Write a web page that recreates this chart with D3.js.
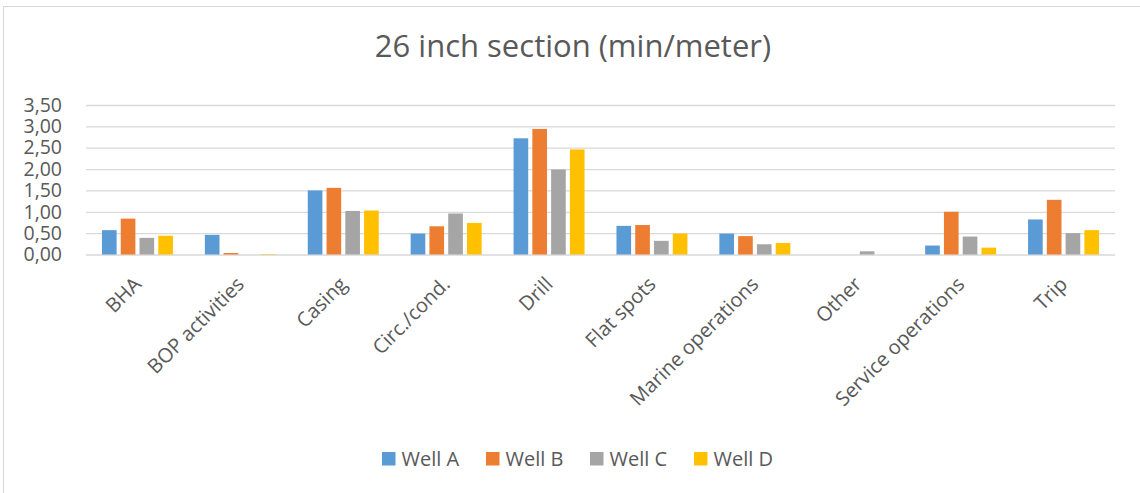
<!DOCTYPE html>
<html>
<head>
<meta charset="utf-8">
<script src="https://cdn.jsdelivr.net/npm/d3@7"></script>
<style>
  body { margin: 0; background: #ffffff; }
  #chart { width: 1140px; height: 493px; overflow: hidden; }
</style>
</head>
<body>
<div id="chart"></div>
<script>
// data
const categories = [
  "BHA",
  "BOP activities",
  "Casing",
  "Circ./cond.",
  "Drill",
  "Flat spots",
  "Marine operations",
  "Other",
  "Service operations",
  "Trip",
];
const seriesNames = ["Well A", "Well B", "Well C", "Well D"];
const wellA = [0.57, 0.46, 1.5, 0.49, 2.72, 0.67, 0.49, 0, 0.21, 0.82];
const wellB = [0.84, 0.035, 1.56, 0.66, 2.94, 0.69, 0.43, 0, 1.0, 1.28];
const wellC = [0.39, 0, 1.02, 0.96, 1.99, 0.32, 0.24, 0.075, 0.42, 0.5];
const wellD = [0.44, 0.01, 1.03, 0.74, 2.46, 0.49, 0.27, 0, 0.16, 0.57];
const yTicks = [0, 0.5, 1, 1.5, 2, 2.5, 3, 3.5];
const titleText = "26 inch section (min/meter)";

const colorPalette = {
  wells: ["#5B9BD5", "#ED7D31", "#A5A5A5", "#FFC000"],
  text: "#595959",
  grid: "#D9D9D9",
  border: "#D9D9D9",
};

const config = {
  width: 1140,
  height: 493,
  plotLeft: 86,
  plotRight: 1115,
  plotTop: 105,
  plotBottom: 254.5,
  font: "'Open Sans', 'DejaVu Sans', sans-serif",
  labelGap: 24,
  legendX: 382,
  legendStep: 104,
  legendY: 452,
  legendBox: 13.5,
};

const seriesValues = [wellA, wellB, wellC, wellD];
const table = categories.map((c, i) => ({
  category: c,
  values: seriesNames.map((s, j) => ({ series: s, value: seriesValues[j][i] })),
}));

const svg = d3.select("#chart")
  .append("svg")
  .attr("width", config.width)
  .attr("height", config.height)
  .style("font-family", config.font);

// chart area frame (right and bottom edges fall outside the picture)
svg.append("rect")
  .attr("x", 3.5)
  .attr("y", 6.5)
  .attr("width", 1160)
  .attr("height", 600)
  .attr("fill", "#ffffff")
  .attr("stroke", colorPalette.border)
  .attr("stroke-width", 1);

svg.append("text")
  .text(titleText)
  .attr("x", 573)
  .attr("y", 57)
  .attr("text-anchor", "middle")
  .style("font-size", "31px")
  .style("fill", colorPalette.text);

// scales
const x = d3.scaleBand()
  .domain(categories)
  .range([config.plotLeft, config.plotRight])
  .padding(0);

const xInner = d3.scaleBand()
  .domain(seriesNames)
  .range([0, x.bandwidth()])
  .paddingInner(0.22)
  .paddingOuter(0.85);

const y = d3.scaleLinear()
  .domain([0, 3.5])
  .range([config.plotBottom, config.plotTop]);

// gridlines
const grid = svg.append("g")
  .attr("class", "grid")
  .attr("transform", `translate(${config.plotLeft},0)`)
  .call(d3.axisLeft(y).tickValues(yTicks)
    .tickSize(-(config.plotRight - config.plotLeft))
    .tickFormat(""));
grid.select(".domain").remove();
grid.selectAll(".tick line")
  .attr("stroke", colorPalette.grid)
  .attr("stroke-width", 1.3);

// y axis labels
const yAxis = svg.append("g")
  .attr("class", "yAxis")
  .attr("transform", `translate(${config.plotLeft},0)`)
  .call(d3.axisLeft(y).tickValues(yTicks)
    .tickSize(0)
    .tickPadding(config.labelGap)
    .tickFormat((d) => d3.format(".2f")(d).replace(".", ",")));
yAxis.select(".domain").remove();
yAxis.selectAll("text")
  .style("font-size", "19.5px")
  .style("font-family", config.font)
  .attr("fill", colorPalette.text);

// bars
const groups = svg.append("g")
  .selectAll("g")
  .data(table)
  .join("g")
  .attr("transform", (d) => `translate(${x(d.category)},0)`);

groups.selectAll("rect")
  .data((d) => d.values)
  .join("rect")
  .attr("x", (d) => xInner(d.series))
  .attr("width", xInner.bandwidth())
  .attr("y", (d) => y(d.value))
  .attr("height", (d) => y(0) - y(d.value))
  .attr("fill", (d, i) => colorPalette.wells[i]);

// x axis labels, rotated
const xAxis = svg.append("g")
  .attr("class", "xAxis")
  .attr("transform", `translate(0,${config.plotBottom})`)
  .call(d3.axisBottom(x).tickSize(0));
xAxis.select(".domain").remove();
xAxis.selectAll("text")
  .attr("x", 0)
  .attr("y", 0)
  .attr("dy", 0)
  .attr("text-anchor", "end")
  .attr("transform", "translate(5,31) rotate(-45)")
  .style("font-size", "20px")
  .style("font-family", config.font)
  .attr("fill", colorPalette.text);

// legend
const legendX = d3.scaleBand()
  .domain(seriesNames)
  .range([config.legendX, config.legendX + config.legendStep * seriesNames.length]);

const legend = svg.append("g")
  .attr("class", "legend")
  .selectAll("g")
  .data(seriesNames)
  .join("g")
  .attr("transform", (d) => `translate(${legendX(d)},${config.legendY})`);

legend.append("rect")
  .attr("width", config.legendBox)
  .attr("height", config.legendBox)
  .attr("fill", (d, i) => colorPalette.wells[i]);

legend.append("text")
  .text((d) => d)
  .attr("x", config.legendBox + 6)
  .attr("y", config.legendBox / 2)
  .attr("dy", "0.35em")
  .style("font-size", "20px")
  .attr("fill", colorPalette.text);
</script>
</body>
</html>
